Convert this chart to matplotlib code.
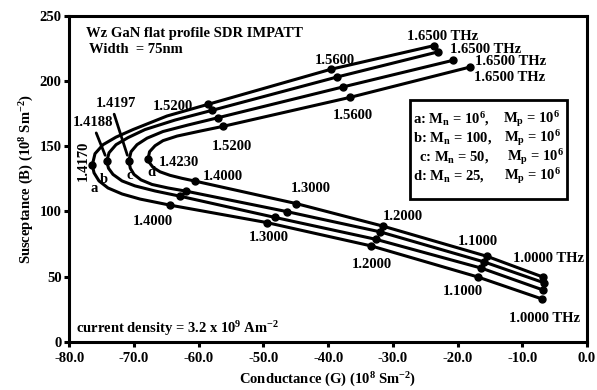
import numpy as np
import matplotlib
matplotlib.use('Agg')
import matplotlib.pyplot as plt
from matplotlib.patches import Rectangle

plt.rcParams['font.family'] = ['Liberation Serif', 'DejaVu Serif']
plt.rcParams['font.weight'] = 'bold'
plt.rcParams['mathtext.fontset'] = 'custom'
plt.rcParams['mathtext.rm'] = 'Liberation Serif:bold'
plt.rcParams['mathtext.it'] = 'Liberation Serif:bold'
plt.rcParams['mathtext.bf'] = 'Liberation Serif:bold'

# marked points on each curve, frequency order:
# 1.0, 1.1, 1.2, 1.3, 1.4, turning point, 1.52, 1.56, 1.65 THz
a_g = [-6.9, -16.9, -33.3, -49.5, -64.5, -76.45, -58.6, -39.6, -23.7]
a_b = [32.7, 49.7, 73.4, 91.4, 104.8, 135.5, 182.0, 208.9, 227.0]
b_g = [-6.8, -16.3, -32.6, -48.2, -62.9, -74.22, -57.9, -38.7, -23.0]
b_b = [39.7, 56.4, 78.5, 95.3, 111.6, 138.4, 177.5, 202.9, 222.3]
c_g = [-6.7, -15.9, -32.0, -46.4, -61.9, -70.80, -57.0, -37.7, -20.7]
c_b = [45.3, 61.2, 84.3, 99.8, 115.4, 138.9, 171.8, 195.4, 215.8]
d_g = [-6.8, -15.4, -31.5, -44.9, -60.6, -67.84, -56.2, -36.6, -18.1]
d_b = [49.6, 65.4, 88.6, 105.9, 123.2, 139.9, 165.2, 187.4, 210.6]

# extra points read along the bend (1.4 -> turning point, turning point -> 1.52)
a_low_g = [-69.07, -71.85, -74.02, -75.41, -76.18]
a_low_b = [109.4, 113.3, 117.9, 123.3, 129.5]
a_up_g = [-76.03, -74.79, -72.78, -70.15, -64.90]
a_up_b = [144.2, 151.1, 156.9, 162.7, 173.1]
b_low_g = [-66.75, -69.85, -71.85, -73.25, -73.94]
b_low_b = [115.6, 119.5, 123.3, 128.3, 133.0]
b_up_g = [-73.86, -72.78, -70.93, -68.30, -63.66]
b_up_b = [144.9, 151.1, 156.5, 162.7, 170.0]
c_low_g = [-64.74, -67.22, -68.92, -70.0, -70.57]
c_low_b = [117.9, 120.6, 124.1, 128.3, 133.0]
c_up_g = [-70.46, -69.54, -67.99, -65.52, -61.65]
c_up_b = [145.7, 151.1, 156.1, 161.2, 166.2]
d_low_g = [-62.58, -64.44, -65.98, -67.06, -67.60]
d_low_b = [125.3, 127.6, 130.3, 133.7, 137.2]
d_up_g = [-67.60, -66.75, -65.52, -63.35, -59.80]
d_up_b = [145.7, 150.3, 154.2, 157.7, 161.5]

x_ticks = [-80, -70, -60, -50, -40, -30, -20, -10, 0]
y_ticks = [0, 50, 100, 150, 200, 250]

legend_left = [r'a: M$_{n}$ = 10$^{6}$,', r'b: M$_{n}$ = 100,',
               r'c: M$_{n}$ = 50,', r'd: M$_{n}$ = 25,']
legend_right = r'M$_{p}$ = 10$^{6}$'

FS = 10.5


def full_path(g, b, low_g, low_b, up_g, up_b):
    xs = g[:5] + low_g + [g[5]] + up_g + g[6:]
    ys = b[:5] + low_b + [b[5]] + up_b + b[6:]
    return xs, ys


fig = plt.figure(figsize=(5.97, 3.90), dpi=100)
ax = fig.add_axes([0.1161, 0.1238, 0.8671, 0.8359])

curves = [
    (a_g, a_b, a_low_g, a_low_b, a_up_g, a_up_b),
    (b_g, b_b, b_low_g, b_low_b, b_up_g, b_up_b),
    (c_g, c_b, c_low_g, c_low_b, c_up_g, c_up_b),
    (d_g, d_b, d_low_g, d_low_b, d_up_g, d_up_b),
]
for g, b, lg, lb, ug, ub in curves:
    xs, ys = full_path(g, b, lg, lb, ug, ub)
    ax.plot(xs, ys, color='black', lw=2.2, solid_joinstyle='round', zorder=3)
    ax.plot(g, b, 'o', color='black', ms=5, zorder=4)

ax.set_xlim(-80, 0)
ax.set_ylim(0, 250)
ax.set_xticks(x_ticks)
ax.set_xticklabels(['%.1f' % v for v in x_ticks])
ax.set_yticks(y_ticks)
for s in ax.spines.values():
    s.set_linewidth(2.2)
ax.tick_params(direction='out', length=3.6, width=2.2, labelsize=FS, pad=2)
ax.tick_params(axis='x', pad=4)
for lab in ax.get_xticklabels() + ax.get_yticklabels():
    lab.set_fontweight('bold')

fig.text(27 / 597, 1 - 179 / 390, r'Susceptance (B) (10$^{8}$ Sm$^{-2}$)',
         rotation=90, ha='center', va='center', fontsize=FS, fontweight='bold')
fig.text(328 / 597, 1 - 380 / 390, r'Conductance (G) (10$^{8}$ Sm$^{-2}$)',
         ha='center', va='center', fontsize=FS, fontweight='bold')

# annotations
ax.text(-77.42, 236.7, 'Wz GaN flat profile SDR IMPATT', fontsize=FS, va='center')
ax.text(-76.9, 224.4, 'Width  = 75nm', fontsize=FS, va='center')
ax.text(-78.96, 9.8, r'current density = 3.2 x 10$^{9}$ Am$^{-2}$', fontsize=FS, va='center')

labels = [
    ('1.6500 THz', -22.24, 233.8), ('1.6500 THz', -15.67, 223.8),
    ('1.6500 THz', -11.73, 215.2), ('1.6500 THz', -11.88, 202.3),
    ('1.5600', -38.93, 215.9), ('1.5600', -36.23, 173.8),
    ('1.5200', -63.97, 180.5), ('1.5200', -54.85, 150.0),
    ('1.4197', -72.78, 182.6), ('1.4188', -76.38, 168.0),
    ('1.4230', -63.05, 137.2),
    ('a', -76.18, 117.2), ('b', -74.59, 124.4), ('c', -70.73, 127.7), ('d', -67.37, 129.5),
    ('1.4000', -56.24, 126.7), ('1.4000', -67.06, 92.3),
    ('1.3000', -42.64, 117.2), ('1.3000', -49.13, 80.0),
    ('1.2000', -28.42, 96.2), ('1.2000', -33.21, 59.0),
    ('1.1000', -16.91, 76.5), ('1.1000', -19.23, 38.5),
    ('1.0000 THz', -6.01, 63.6), ('1.0000 THz', -6.55, 17.5),
]
for txt, x, y in labels:
    ax.text(x, y, txt, fontsize=FS, ha='center', va='center', zorder=5)
ax.text(-77.91, 139.0, '1.4170', fontsize=FS, ha='center', va='center', rotation=90)

ax.annotate('', xy=(-70.9, 141), xytext=(-73.2, 176.5),
            arrowprops=dict(arrowstyle='-', lw=2.0, color='black'))
ax.annotate('', xy=(-74.3, 141), xytext=(-76.0, 162.1),
            arrowprops=dict(arrowstyle='-', lw=2.0, color='black'))

# legend box
ax.add_patch(Rectangle((0.658, 0.438), 0.303, 0.303, transform=ax.transAxes,
                       fill=False, lw=2.0, edgecolor='black', zorder=5))
rows_y = [0.683, 0.625, 0.566, 0.508]
left_x = [0.664, 0.664, 0.676, 0.664]
right_x = [0.838, 0.840, 0.845, 0.840]
for i in range(4):
    ax.text(left_x[i], rows_y[i], legend_left[i], transform=ax.transAxes,
            fontsize=FS, va='center')
    ax.text(right_x[i], rows_y[i], legend_right, transform=ax.transAxes,
            fontsize=FS, va='center')

plt.savefig('out.png', dpi=100)
